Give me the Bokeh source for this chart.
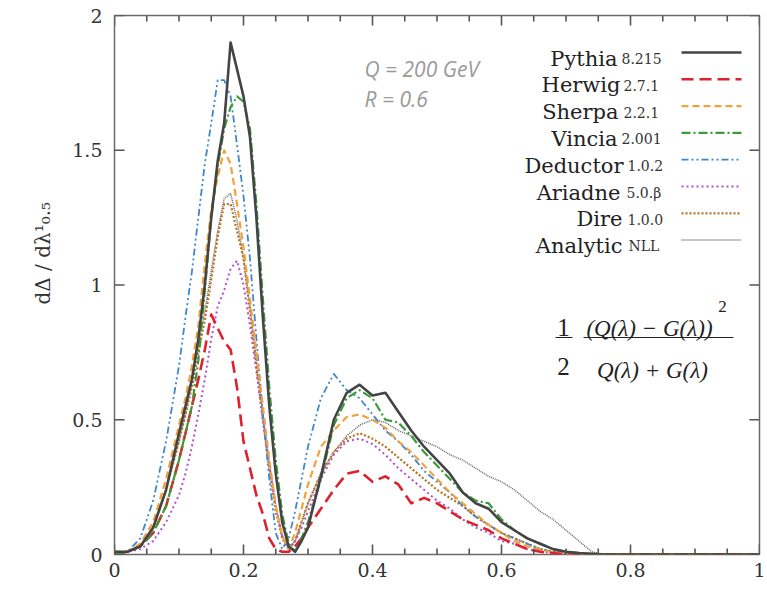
from bokeh.plotting import figure
from bokeh.models import Range1d, FixedTicker
from bokeh.core.properties import value
from bokeh.embed import file_html
from bokeh.resources import INLINE

# ---------------- data ----------------
lam = [0.00, 0.02, 0.04, 0.06, 0.08, 0.10,
       0.11, 0.12, 0.13, 0.14, 0.15, 0.16, 0.17, 0.18, 0.19, 0.20,
       0.21, 0.22, 0.23, 0.24, 0.25, 0.26, 0.27, 0.28, 0.29, 0.30,
       0.32, 0.34, 0.36, 0.38, 0.40, 0.42, 0.44, 0.46, 0.48, 0.50,
       0.52, 0.54, 0.56, 0.58, 0.60, 0.62, 0.64, 0.66, 0.68, 0.70,
       0.72, 0.74, 0.76, 0.78, 0.80, 1.00]

pythia = [0.01, 0.01, 0.03, 0.10, 0.24, 0.45,
          0.55, 0.65, 0.80, 1.00, 1.25, 1.46, 1.60, 1.90, 1.80, 1.70,
          1.55, 1.25, 0.88, 0.55, 0.30, 0.12, 0.03, 0.01, 0.05, 0.10,
          0.29, 0.50, 0.60, 0.63, 0.59, 0.60, 0.53, 0.46, 0.40, 0.35,
          0.30, 0.23, 0.19, 0.17, 0.12, 0.09, 0.06, 0.04, 0.02, 0.01,
          0.005, 0.003, 0.0, 0.0, 0.0, 0.0]

herwig = [0.00, 0.01, 0.03, 0.08, 0.18, 0.35,
          0.45, 0.55, 0.65, 0.76, 0.89, 0.84, 0.79, 0.76, 0.62, 0.42,
          0.32, 0.22, 0.15, 0.06, 0.02, 0.01, 0.01, 0.03, 0.06, 0.10,
          0.17, 0.24, 0.30, 0.31, 0.27, 0.29, 0.26, 0.19, 0.21, 0.19,
          0.16, 0.13, 0.11, 0.09, 0.06, 0.04, 0.02, 0.01, 0.005, 0.0,
          0.0, 0.0, 0.0, 0.0, 0.0, 0.0]

sherpa = [0.01, 0.01, 0.04, 0.12, 0.28, 0.48,
          0.58, 0.70, 0.85, 1.08, 1.28, 1.40, 1.50, 1.45, 1.30, 1.14,
          0.95, 0.75, 0.55, 0.35, 0.18, 0.07, 0.02, 0.08, 0.17, 0.26,
          0.40, 0.46, 0.51, 0.52, 0.50, 0.47, 0.42, 0.38, 0.33, 0.28,
          0.23, 0.19, 0.15, 0.11, 0.08, 0.05, 0.03, 0.015, 0.008, 0.003,
          0.0, 0.0, 0.0, 0.0, 0.0, 0.0]

vincia = [0.00, 0.01, 0.03, 0.08, 0.18, 0.35,
          0.45, 0.55, 0.72, 0.98, 1.25, 1.44, 1.58, 1.66, 1.70, 1.68,
          1.58, 1.30, 0.95, 0.62, 0.35, 0.15, 0.04, 0.01, 0.06, 0.12,
          0.28, 0.48, 0.58, 0.61, 0.58, 0.50, 0.49, 0.44, 0.38, 0.33,
          0.28, 0.23, 0.20, 0.19, 0.13, 0.09, 0.06, 0.04, 0.02, 0.01,
          0.005, 0.002, 0.0, 0.0, 0.0, 0.0]

deductor = [0.01, 0.01, 0.06, 0.20, 0.42, 0.70,
            0.88, 1.05, 1.25, 1.45, 1.60, 1.76, 1.76, 1.70, 1.52, 1.33,
            1.10, 0.80, 0.52, 0.28, 0.08, 0.02, 0.06, 0.16, 0.28, 0.40,
            0.58, 0.67, 0.61, 0.58, 0.52, 0.46, 0.42, 0.37, 0.31, 0.27,
            0.23, 0.18, 0.14, 0.11, 0.08, 0.06, 0.04, 0.02, 0.01, 0.005,
            0.0, 0.0, 0.0, 0.0, 0.0, 0.0]

ariadne = [0.00, 0.01, 0.02, 0.05, 0.12, 0.22,
           0.30, 0.40, 0.52, 0.65, 0.80, 0.92, 0.98, 1.06, 1.09, 1.00,
           0.85, 0.68, 0.50, 0.33, 0.18, 0.07, 0.02, 0.05, 0.10, 0.16,
           0.28, 0.37, 0.42, 0.43, 0.41, 0.37, 0.32, 0.28, 0.24, 0.20,
           0.17, 0.13, 0.10, 0.08, 0.05, 0.04, 0.02, 0.01, 0.005, 0.0,
           0.0, 0.0, 0.0, 0.0, 0.0, 0.0]

dire = [0.01, 0.01, 0.03, 0.10, 0.24, 0.42,
        0.52, 0.62, 0.75, 0.87, 1.02, 1.18, 1.30, 1.30, 1.20, 1.10,
        0.90, 0.70, 0.50, 0.32, 0.16, 0.06, 0.02, 0.05, 0.12, 0.19,
        0.30, 0.38, 0.43, 0.45, 0.43, 0.40, 0.36, 0.32, 0.28, 0.24,
        0.21, 0.18, 0.14, 0.11, 0.08, 0.06, 0.04, 0.02, 0.01, 0.005,
        0.0, 0.0, 0.0, 0.0, 0.0, 0.0]

analytic = [0.01, 0.01, 0.03, 0.10, 0.24, 0.42,
            0.52, 0.64, 0.78, 0.90, 1.05, 1.20, 1.32, 1.34, 1.24, 1.10,
            0.92, 0.72, 0.52, 0.34, 0.18, 0.07, 0.02, 0.05, 0.12, 0.19,
            0.30, 0.38, 0.44, 0.48, 0.50, 0.49, 0.46, 0.44, 0.42, 0.40,
            0.37, 0.35, 0.32, 0.29, 0.27, 0.24, 0.20, 0.16, 0.13, 0.09,
            0.05, 0.01, 0.0, 0.0, 0.0, 0.0]

names = ["Pythia", "Herwig", "Sherpa", "Vincia", "Deductor", "Ariadne", "Dire", "Analytic"]
versions = ["8.215", "2.7.1", "2.2.1", "2.001", "1.0.2", "5.0.\u03b2", "1.0.0", "NLL"]
series = [pythia, herwig, sherpa, vincia, deductor, ariadne, dire, analytic]

x_tick_vals = [0.0, 0.2, 0.4, 0.6, 0.8, 1.0]
x_tick_labels = ["0", "0.2", "0.4", "0.6", "0.8", "1"]
y_tick_vals = [0.0, 0.5, 1.0, 1.5, 2.0]
y_tick_labels = ["0", "0.5", "1", "1.5", "2"]

# ---------------- styles ----------------
colors = ["#444444", "#e0202c", "#f2a23a", "#3a9a3a", "#3f86cc", "#b050d4", "#b8701a", "#666666"]
dashes = ["solid", "12 6", "7 4", "9 3 2 3", "7 3 2 3 2 3", "2 3", "2 2", "1 1"]
widths = [2.6, 2.6, 2.2, 2.2, 1.8, 2.0, 2.2, 1.5]
draw_order = [7, 6, 5, 4, 2, 1, 3, 0]

FL, FR, FT, FB = 114, 759, 15, 554
W, H = 767, 592
DX = 1.0 / (FR - FL)        # data units per pixel, x
DY = 2.0 / (FB - FT)        # data units per pixel, y


def px(xp):
    return (xp - FL) * DX


def py(yp):
    return (FB - yp) * DY


SERIF = "DejaVu Serif"
AXC = "#555555"

p = figure(width=W, height=H, x_range=Range1d(0, 1), y_range=Range1d(0, 2),
           output_backend="svg", toolbar_location=None,
           min_border_left=FL, min_border_right=W - FR,
           min_border_top=FT, min_border_bottom=H - FB)
p.grid.visible = False
p.outline_line_color = "#6a6a6a"
p.outline_line_width = 1.5
p.background_fill_color = None
p.border_fill_color = None

for ax, vals, labs in ((p.xaxis[0], x_tick_vals, x_tick_labels),
                       (p.yaxis[0], y_tick_vals, y_tick_labels)):
    ax.ticker = FixedTicker(ticks=vals, minor_ticks=[])
    ax.axis_line_color = None
    ax.major_tick_in = 0
    ax.major_tick_out = 0
    ax.major_tick_line_color = None
    ax.minor_tick_line_color = None
    ax.major_label_overrides = dict(zip(vals, labs))
    ax.major_label_text_font = SERIF
    ax.major_label_text_font_size = "19px"
    ax.major_label_text_color = "#333333"
p.xaxis[0].major_label_standoff = 8
p.yaxis[0].major_label_standoff = 12

# y axis title (leading no-break spaces move it up the axis as in the reference)
p.yaxis[0].axis_label = "\u00a0" * 10 + "d\u0394 / d\u03bb\u00b9\u2080.\u2085"
p.yaxis[0].axis_label_text_font = SERIF
p.yaxis[0].axis_label_text_font_style = "normal"
p.yaxis[0].axis_label_text_font_size = "20px"
p.yaxis[0].axis_label_text_color = "#333333"
p.yaxis[0].axis_label_standoff = 14

# ---------------- curves ----------------
for i in draw_order:
    p.line(lam, series[i], line_color=colors[i], line_width=widths[i],
           line_dash=dashes[i], line_join="round")

# ---------------- legend (drawn by hand: labels right, sample at right) ----------------
name_right = [617, 620, 618, 617, 623, 620, 622, 622]
ver_left = [621, 623, 623, 621, 627, 626, 627, 628]
for i in range(len(names)):
    base = 58 + 26.8 * i
    ly = base - 6
    p.line([px(681), px(741)], [py(ly), py(ly)], line_color=colors[i],
           line_width=widths[i], line_dash=dashes[i])
    p.text([px(name_right[i])], [py(base)], text=[names[i]], text_font=value(SERIF),
           text_font_size="21px", text_align="right", text_baseline="alphabetic",
           text_color="#222222")
    p.text([px(ver_left[i])], [py(base)], text=[versions[i]], text_font=value(SERIF),
           text_font_size="14px", text_align="left", text_baseline="alphabetic",
           text_color="#333333")

# ---------------- annotations ----------------
p.text([px(364), px(364)], [py(68), py(98)], text=["Q = 200 GeV", "R = 0.6"],
       text_font=value("Open Sans"), text_font_style="italic", text_font_size="21px",
       text_color="#9a9a9a", text_align="left", text_baseline="alphabetic")

FORM = "Liberation Serif"
p.text([px(563), px(563)], [py(327), py(366)], text=["1", "2"], text_font=value(FORM),
       text_font_size="25px", text_align="center", text_baseline="alphabetic",
       text_color="#222222")
p.segment([px(555), px(583)], [py(337), py(337)], [px(572), px(733)], [py(337), py(337)],
          line_color="#222222", line_width=1.2)
p.text([px(649)], [py(328)], text=["(Q(\u03bb) \u2212 G(\u03bb))"], text_font=value(FORM),
       text_font_style="italic", text_font_size="23px", text_align="center",
       text_baseline="alphabetic", text_color="#222222")
p.text([px(722)], [py(306)], text=["2"], text_font=value(FORM), text_font_size="17px",
       text_align="center", text_baseline="alphabetic", text_color="#222222")
p.text([px(652)], [py(370)], text=["Q(\u03bb) + G(\u03bb)"], text_font=value(FORM),
       text_font_style="italic", text_font_size="23px", text_align="center",
       text_baseline="alphabetic", text_color="#222222")

# inward tick marks on all four sides (mirrored, gnuplot style) as thin filled bars
x_minor = [round(0.05 * i, 2) for i in range(21) if i % 4 != 0]
MAJ, MIN, HW = 10, 6, 0.8     # lengths and half width, pixels
ql, qr, qb, qt = [], [], [], []
for v, L in [(v, MAJ) for v in x_tick_vals] + [(v, MIN) for v in x_minor]:
    ql += [v - HW * DX, v - HW * DX]
    qr += [v + HW * DX, v + HW * DX]
    qb += [0.0, 2.0 - L * DY]
    qt += [L * DY, 2.0]
for v in y_tick_vals:
    ql += [0.0, 1.0 - MAJ * DX]
    qr += [MAJ * DX, 1.0]
    qb += [v - HW * DY, v - HW * DY]
    qt += [v + HW * DY, v + HW * DY]
p.quad(left=ql, right=qr, bottom=qb, top=qt, fill_color=AXC, line_color=None)

open("out.html", "w").write(file_html(p, INLINE))
